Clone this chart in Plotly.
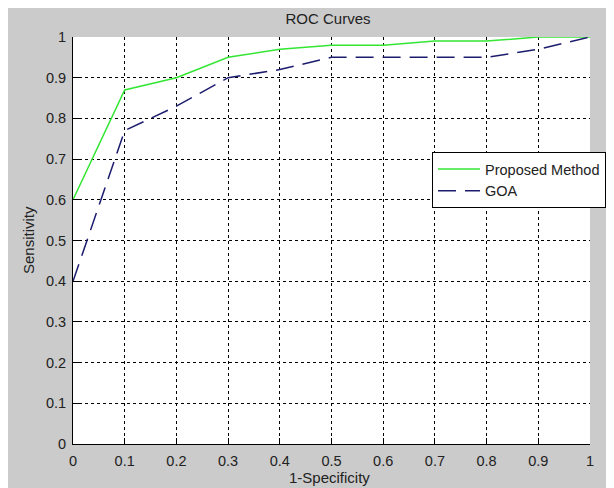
import plotly.graph_objects as go

fpr = [0, 0.1, 0.2, 0.3, 0.4, 0.5, 0.6, 0.7, 0.8, 0.9, 1.0]
proposed = [0.60, 0.87, 0.90, 0.95, 0.97, 0.98, 0.98, 0.99, 0.99, 1.00, 1.00]
goa = [0.40, 0.77, 0.83, 0.90, 0.92, 0.95, 0.95, 0.95, 0.95, 0.97, 1.00]
tick_vals = [0, 0.1, 0.2, 0.3, 0.4, 0.5, 0.6, 0.7, 0.8, 0.9, 1.0]
tick_text = ["0", "0.1", "0.2", "0.3", "0.4", "0.5", "0.6", "0.7", "0.8", "0.9", "1"]

# the page body adds an 8px white margin at top/left, so the figure is 8px smaller
W, H = 606, 480
L, R, T, B = 65, 24, 29, 44
pw, ph = W - L - R, H - T - B

FONT = "Liberation Sans, Arial, sans-serif"
GREY = "#CBCBCB"
TXT = "#222222"

fig = go.Figure()
fig.add_trace(go.Scatter(x=fpr, y=proposed, mode="lines", name="Proposed Method",
                         line=dict(color="#33E633", width=1.5)))
fig.add_trace(go.Scatter(x=fpr, y=goa, mode="lines", name="GOA",
                         line=dict(color="#1C1C6E", width=1.5, dash="18px,9px")))

grid = dict(showgrid=True, gridcolor="black", gridwidth=1, griddash="3px,3px")
fig.update_xaxes(range=[0, 1], tickvals=tick_vals, ticktext=tick_text, zeroline=False,
                 showline=True, linecolor="black", linewidth=1, ticks="inside",
                 ticklen=6, tickcolor="black", tickfont=dict(family=FONT, size=14.5, color=TXT),
                 ticklabelstandoff=4, automargin=False, **grid)
fig.update_yaxes(range=[0, 1], tickvals=tick_vals, ticktext=tick_text, zeroline=False,
                 showline=True, linecolor="black", linewidth=1, ticks="inside",
                 ticklen=6, tickcolor="black", tickfont=dict(family=FONT, size=14.5, color=TXT),
                 ticklabelstandoff=3, automargin=False, **grid)

def px2paper_x(px):
    return (px - L) / pw

def px2paper_y(py):
    return (H - B - py) / ph

# axis titles
fig.add_annotation(text="1-Specificity", xref="paper", yref="paper",
                   x=px2paper_x(321), y=px2paper_y(469), xanchor="center", yanchor="middle",
                   showarrow=False, font=dict(family=FONT, size=15, color=TXT))
fig.add_annotation(text="Sensitivity", xref="paper", yref="paper",
                   x=px2paper_x(21), y=px2paper_y(232), xanchor="center", yanchor="middle",
                   textangle=-90, showarrow=False, font=dict(family=FONT, size=15, color=TXT))

fig.update_layout(
    width=W, height=H,
    margin=dict(l=L, r=R, t=T, b=B, autoexpand=False),
    paper_bgcolor=GREY, plot_bgcolor="white",
    title=dict(text="ROC Curves", x=320 / W, xanchor="center",
               y=1 - 11 / H, yanchor="middle", yref="container",
               font=dict(family=FONT, size=15, color=TXT)),
    legend=dict(xref="container", yref="container",
                x=424 / W, y=1 - 144 / H, xanchor="left", yanchor="top",
                bgcolor="white", bordercolor="black", borderwidth=1,
                font=dict(family=FONT, size=14.5, color=TXT),
                tracegroupgap=0, itemwidth=42),
    showlegend=True,
)

fig.write_html("out.html")
